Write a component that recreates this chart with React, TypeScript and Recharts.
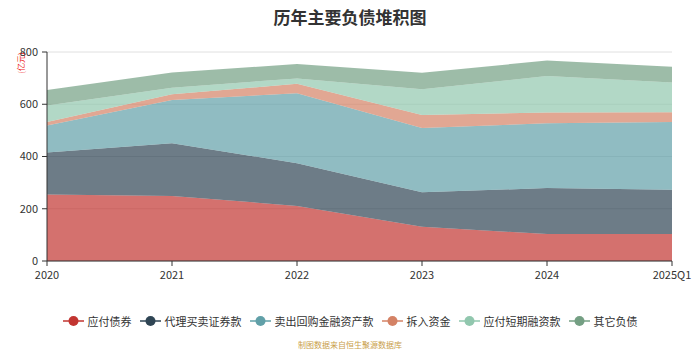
import { AreaChart, Area, XAxis, YAxis, CartesianGrid } from "recharts";

const years = ["2020", "2021", "2022", "2023", "2024", "2025Q1"];

// 亿元
const bonds = [255, 249, 211, 131, 103, 103];
const brokerage = [160, 202, 163, 132, 176, 170];
const repo = [104, 165, 268, 246, 248, 259];
const borrowings = [13, 22, 36, 50, 41, 37];
const shortFinancing = [63, 25, 21, 98, 140, 114];
const others = [60, 59, 55, 64, 59, 61];

const seriesNames = ["应付债券", "代理买卖证券款", "卖出回购金融资产款", "拆入资金", "应付短期融资款", "其它负债"];
const seriesColors = ["#c23531", "#2f4554", "#61a0a8", "#d48265", "#91c7ae", "#749f83"];
const seriesValues = [bonds, brokerage, repo, borrowings, shortFinancing, others];

const yTicks = [0, 200, 400, 600, 800];

const data = years.map((year, i) => {
  const row: Record<string, string | number> = { year };
  seriesNames.forEach((name, k) => {
    row[name] = seriesValues[k][i];
  });
  return row;
});

const FONT = "'Noto Sans CJK SC', 'Noto Sans', sans-serif";

function LegendRow() {
  return (
    <div
      style={{
        position: "absolute",
        top: 313,
        left: 0,
        width: 700,
        display: "flex",
        justifyContent: "center",
        gap: 8,
        fontSize: 11,
        color: "#333",
        fontFamily: FONT,
      }}
    >
      {seriesNames.map((name, i) => (
        <div key={name} style={{ display: "flex", alignItems: "center", gap: 4 }}>
          <svg width={21} height={14}>
            <line x1={0} y1={7} x2={21} y2={7} stroke={seriesColors[i]} strokeWidth={1.5} />
            <circle cx={10.5} cy={7} r={5} fill={seriesColors[i]} />
          </svg>
          <span>{name}</span>
        </div>
      ))}
    </div>
  );
}

export default function App() {
  return (
    <div style={{ position: "relative", width: 700, height: 350, background: "#fff", fontFamily: FONT }}>
      <style>{`body{margin:0}`}</style>
      <div
        style={{
          position: "absolute",
          top: 4,
          left: 0,
          width: 700,
          textAlign: "center",
          fontSize: 17,
          fontWeight: "bold",
          color: "#333",
        }}
      >
        历年主要负债堆积图
      </div>
      <div
        style={{
          position: "absolute",
          left: 20,
          top: 63,
          transform: "translate(-50%, -50%) rotate(-90deg)",
          fontSize: 8,
          color: "#ee2222",
          whiteSpace: "nowrap",
        }}
      >
        (亿元)
      </div>
      <AreaChart width={700} height={350} data={data} margin={{ top: 52, right: 28, left: 0, bottom: 59 }}>
        <CartesianGrid vertical={false} stroke="#e0e0e0" />
        <XAxis
          dataKey="year"
          height={30}
          tick={{ fontSize: 11, fill: "#333" }}
          tickLine={{ stroke: "#333" }}
          axisLine={{ stroke: "#333" }}
          tickSize={5}
          tickMargin={5}
          interval={0}
        />
        <YAxis
          width={47}
          domain={[0, 800]}
          ticks={yTicks}
          tick={{ fontSize: 11, fill: "#333" }}
          tickLine={{ stroke: "#333" }}
          axisLine={{ stroke: "#333" }}
          tickSize={5}
          tickMargin={4}
        />
        {seriesNames.map((name, i) => (
          <Area
            key={name}
            type="linear"
            dataKey={name}
            stackId="1"
            stroke="none"
            fill={seriesColors[i]}
            fillOpacity={0.7}
            isAnimationActive={false}
          />
        ))}
      </AreaChart>
      <LegendRow />
      <div
        style={{
          position: "absolute",
          top: 339,
          left: 0,
          width: 700,
          textAlign: "center",
          fontSize: 8,
          color: "#c9a04a",
        }}
      >
        制图数据来自恒生聚源数据库
      </div>
    </div>
  );
}
